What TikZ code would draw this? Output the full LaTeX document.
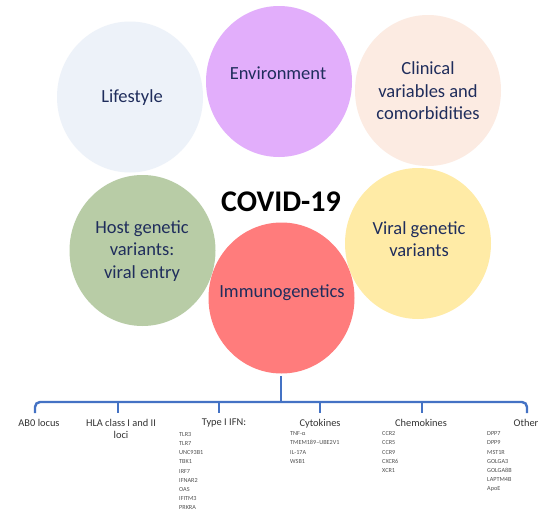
\documentclass[tikz,border=0pt]{standalone}
\usepackage{fontspec}
\setmainfont{Carlito}
\usetikzlibrary{shapes.geometric}
\definecolor{navy}{HTML}{1F2D5C}
\definecolor{cLife}{HTML}{EDF2F9}
\definecolor{cEnv}{HTML}{E2AEFB}
\definecolor{cClin}{HTML}{FCEBE2}
\definecolor{cHost}{HTML}{B8CCA6}
\definecolor{cImm}{HTML}{FF7C7C}
\definecolor{cVir}{HTML}{FFEBA6}
\definecolor{lineblue}{HTML}{4472C4}
\definecolor{labgray}{HTML}{333333}
\definecolor{genegray}{HTML}{505050}
\begin{document}
\begin{tikzpicture}[x=1pt,y=-1pt,
  blob/.style={ellipse, draw=none, inner sep=0pt, minimum width=146pt, minimum height=151pt},
  ctext/.style={text=navy, font=\fontsize{18.5}{22.6}\selectfont, align=center, inner sep=0pt},
  lab/.style={text=labgray, font=\fontsize{10.4}{12.4}\selectfont, align=center, inner sep=0pt, anchor=north},
  genes/.style={text=genegray, font=\fontsize{6.2}{9.2}\selectfont, align=left, inner sep=0pt, anchor=north west},
  bracket/.style={draw=lineblue, line width=2.4pt}
]
\useasboundingbox (0,0) rectangle (550,517);
\fill[white] (0,0) rectangle (550,517);

% circles
\node[blob, fill=cLife] (life) at (130,97) {};
\node[blob, fill=cEnv]  (env)  at (279,81.5) {};
\node[blob, fill=cClin] (clin) at (428,90.5) {};
\node[blob, fill=cHost] (host) at (142.5,250.5) {};
\node[blob, fill=cVir]  (vir)  at (418,243.5) {};
\node[blob, fill=cImm]  (imm)  at (281.5,298) {};

% circle texts
\node[ctext] (tlife) at (132,98) {Lifestyle};
\node[ctext] (tenv)  at (278,73) {Environment};
\node[ctext] (tclin) at (428,91) {Clinical\\variables and\\comorbidities};
\node[ctext] (thost) at (142,251) {Host genetic\\variants:\\viral entry};
\node[ctext] (timm)  at (282,293) {Immunogenetics};
\node[ctext] (tvir)  at (419,239) {Viral genetic\\variants};
\node[inner sep=0pt, font=\fontsize{30}{36}\selectfont\bfseries] (covid) at (281,202) {COVID-19};

% bracket
\coordinate (stemtop) at (281,376);
\coordinate (stembot) at (281,402);
\coordinate (bl) at (35,413);
\coordinate (br) at (527,413);
\coordinate (t1) at (118,402);
\coordinate (t2) at (219,402);
\coordinate (t3) at (320,402);
\coordinate (t4) at (422,402);
\draw[bracket, rounded corners=5pt] (bl) -- (35,402) -- (527,402) -- (br);
\draw[bracket] (stemtop) -- (stembot);
\foreach \t in {t1,t2,t3,t4} \draw[bracket] (\t) -- ++(0,11);

% labels
\node[lab] (l1) at (39,419) {AB0 locus};
\node[lab] (l2) at (121,419) {HLA class I and II\\loci};
\node[lab] (l3) at (224,419) {Type I IFN:};
\node[lab] (l4) at (320,419) {Cytokines};
\node[lab] (l5) at (421,419) {Chemokines};
\node[lab] (l6) at (526,419) {Other};

% gene lists
\node[genes] (g3) at (179,432) {TLR3\\TLR7\\UNC93B1\\TBK1\\IRF7\\IFNAR2\\OAS\\IFITM3\\PRKRA};
\node[genes] (g4) at (290,431.5) {TNF-α\\TMEM189–UBE2V1\\IL-17A\\WSB1};
\node[genes] (g5) at (382,431.5) {CCR2\\CCR5\\CCR9\\CXCR6\\XCR1};
\node[genes] (g6) at (487,431.5) {DPP7\\DPP9\\MST1R\\GOLGA3\\GOLGA8B\\LAPTM4B\\ApoE};
\end{tikzpicture}
\end{document}
